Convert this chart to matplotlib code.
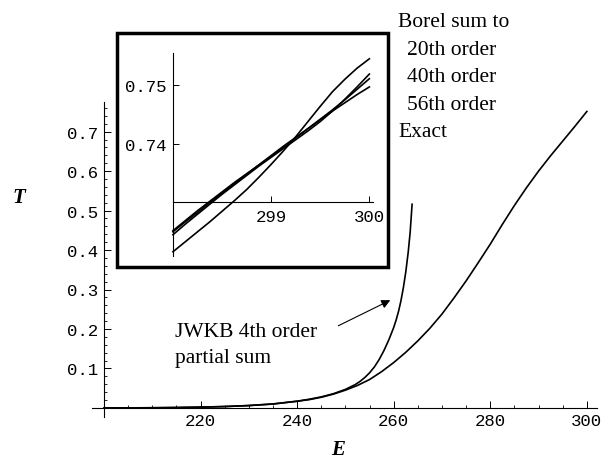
import matplotlib.pyplot as plt
from matplotlib.patches import Rectangle

plt.rcParams['font.family'] = 'Liberation Serif'

# main plot: exact transmission and JWKB 4th order partial sum
E_exact = [200, 205, 210, 215, 220, 225, 230, 235, 240, 242.5, 245, 247.5, 250, 252.5, 255,
           257.5, 260, 262.5, 265, 267.5, 270, 272.5, 275, 277.5, 280, 282.5, 285, 287.5, 290,
           292.5, 295, 297.5, 300]
T_exact = [0.0, 0.0001, 0.0004, 0.001, 0.002, 0.0035, 0.006, 0.010, 0.017, 0.021, 0.027, 0.035,
           0.045, 0.057, 0.072, 0.092, 0.115, 0.141, 0.170, 0.202, 0.238, 0.279, 0.322, 0.368,
           0.415, 0.465, 0.513, 0.558, 0.600, 0.639, 0.676, 0.713, 0.751]
E_jwkb = [200, 205, 210, 215, 220, 225, 230, 235, 240, 242.5, 245, 247.5, 250, 251, 252, 253,
          254, 255, 256, 257, 258, 259, 260, 260.5, 261, 261.5, 262, 262.5, 263, 263.4, 263.8]
T_jwkb = [0.0, 0.0001, 0.0004, 0.001, 0.002, 0.0035, 0.006, 0.010, 0.017, 0.022, 0.028, 0.036,
          0.047, 0.053, 0.059, 0.067, 0.077, 0.089, 0.104, 0.123, 0.146, 0.173, 0.204, 0.223,
          0.245, 0.272, 0.305, 0.345, 0.395, 0.445, 0.516]

x_ticks = [220, 240, 260, 280, 300]
y_ticks = [0.1, 0.2, 0.3, 0.4, 0.5, 0.6, 0.7]
y_labels = ['0.1', '0.2', '0.3', '0.4', '0.5', '0.6', '0.7']

# inset: Borel sums near E = 300
E_zoom = [298, 298.125, 298.25, 298.375, 298.5, 298.625, 298.75, 298.875, 299,
          299.125, 299.25, 299.375, 299.5, 299.625, 299.75, 299.875, 300]
T_20 = [0.7216, 0.7233, 0.7250, 0.7267, 0.7285, 0.7303, 0.7322, 0.7343, 0.7365,
        0.7388, 0.7412, 0.7438, 0.7464, 0.7489, 0.7510, 0.7529, 0.7545]
T_40 = [0.7245, 0.7263, 0.7280, 0.7297, 0.7314, 0.7330, 0.7346, 0.7362, 0.7377,
        0.7392, 0.7407, 0.7422, 0.7438, 0.7456, 0.7476, 0.7497, 0.7519]
T_56 = [0.7252, 0.7269, 0.7286, 0.7302, 0.7318, 0.7334, 0.7349, 0.7364, 0.7379,
        0.7394, 0.7410, 0.7426, 0.7442, 0.7458, 0.7475, 0.7493, 0.7511]
T_ex = [0.7250, 0.7267, 0.7283, 0.7300, 0.7316, 0.7332, 0.7348, 0.7364, 0.7380,
        0.7396, 0.7411, 0.7426, 0.7441, 0.7456, 0.7470, 0.7484, 0.7497]

W, H = 602, 460
fig = plt.figure(figsize=(W / 100, H / 100), dpi=100)


def px(x, y):
    return x / W, 1 - y / H


mono = 'Liberation Mono'

ax = fig.add_axes([92 / W, 42 / H, 505 / W, 315 / H])
ax.plot(E_exact, T_exact, color='black', lw=1.2)
ax.plot(E_jwkb, T_jwkb, color='black', lw=1.2)
ax.set_xlim(197.5, 302.1)
ax.set_ylim(-0.023, 0.775)
for s in ['top', 'right']:
    ax.spines[s].set_visible(False)
ax.spines['left'].set_position(('data', 200))
ax.spines['bottom'].set_position(('data', 0))
ax.spines['left'].set_linewidth(0.8)
ax.spines['bottom'].set_linewidth(0.8)
ax.set_xticks(x_ticks, labels=[str(t) for t in x_ticks])
ax.set_xticks([e for e in range(205, 301, 5) if e not in x_ticks], minor=True)
ax.set_yticks(y_ticks, labels=y_labels)
ax.set_yticks([i * 0.02 for i in range(1, 39) if i % 5 != 0], minor=True)
ax.tick_params(direction='in', length=5, width=0.7, pad=4, labelsize=12.5)
ax.tick_params(which='minor', direction='in', length=2.5, width=0.6)
for lab in ax.get_xticklabels() + ax.get_yticklabels():
    lab.set_fontfamily(mono)

ax.annotate('', xy=(259.8, 0.276), xytext=(248.0, 0.205),
            arrowprops=dict(arrowstyle='-|>', lw=0.8, color='black', mutation_scale=13))

# inset
ax2 = fig.add_axes([117 / W, (H - 268) / H, 271 / W, 234 / H])
ax2.set_zorder(3)
for T in [T_20, T_40, T_56, T_ex]:
    ax2.plot(E_zoom, T, color='black', lw=1.2)
ax2.set_xlim(297.43, 300.19)
ax2.set_ylim(0.7190, 0.7589)
for s in ['top', 'right']:
    ax2.spines[s].set_visible(False)
ax2.spines['left'].set_position(('data', 298))
ax2.spines['bottom'].set_position(('data', 0.73))
ax2.spines['left'].set_bounds(0.7209, 0.7555)
ax2.spines['bottom'].set_bounds(298, 300.04)
ax2.spines['left'].set_linewidth(0.8)
ax2.spines['bottom'].set_linewidth(0.8)
ax2.set_xticks([299, 300], labels=['299', '300'])
ax2.set_yticks([0.74, 0.75], labels=['0.74', '0.75'])
ax2.tick_params(direction='in', length=4, width=0.7, pad=5, labelsize=12.5)
for lab in ax2.get_xticklabels() + ax2.get_yticklabels():
    lab.set_fontfamily(mono)
ax2.add_patch(Rectangle((0, 0), 1, 1, transform=ax2.transAxes, fill=False,
                        lw=2.5, color='black', clip_on=False))

# texts
fs = 15.5
fig.text(*px(398, 27), 'Borel sum to', fontsize=fs, va='baseline')
fig.text(*px(407, 55), '20th order', fontsize=fs, va='baseline')
fig.text(*px(407, 82), '40th order', fontsize=fs, va='baseline')
fig.text(*px(407, 110), '56th order', fontsize=fs, va='baseline')
fig.text(*px(398, 137), 'Exact', fontsize=fs, va='baseline')
fig.text(*px(175, 337), 'JWKB 4th order', fontsize=fs, va='baseline')
fig.text(*px(175, 363), 'partial sum', fontsize=fs, va='baseline')
fig.text(*px(12, 203), 'T', fontsize=15, style='italic', weight='bold', va='baseline')
fig.text(*px(331, 455), 'E', fontsize=15, style='italic', weight='bold', va='baseline')

fig.savefig('out.png', dpi=100)
